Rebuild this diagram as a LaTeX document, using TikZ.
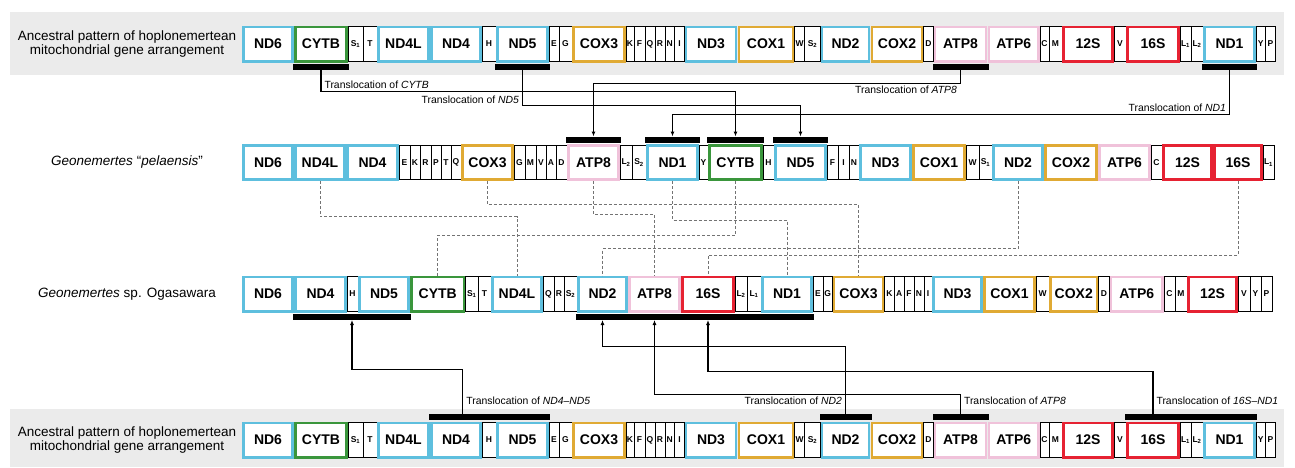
\documentclass[tikz,border=0pt]{standalone}
\usepackage{fontspec}
\setmainfont{Liberation Sans}
\usetikzlibrary{arrows.meta,calc,fit}

\definecolor{ndblue}{RGB}{94,191,222}
\definecolor{cytgreen}{RGB}{58,150,60}
\definecolor{coxgold}{RGB}{224,170,52}
\definecolor{atppink}{RGB}{240,194,218}
\definecolor{rrnred}{RGB}{230,34,50}
\definecolor{bandgray}{RGB}{235,235,235}
\definecolor{linkgray}{RGB}{115,115,115}

% gene order of each row: name/label/slot width/box style
\newcommand{\ancestralorder}{nd6/ND6/52/ndbox, cytb/CYTB/54/cytbox, s1/S\textsubscript{1}/15/trnbox, t/T/14/trnbox, nd4l/ND4L/53/ndbox, nd4/ND4/52/ndbox, h/H/14/trnbox, nd5/ND5/53/ndbox, e/E/10/trnbox, g/G/13/trnbox, cox3/COX3/54/coxbox, k/K/8/trnbox, f/F/11/trnbox, q/Q/10/trnbox, r/R/10/trnbox, n/N/9.5/trnbox, i/I/10/trnbox, nd3/ND3/53/ndbox, cox1/COX1/57/coxbox, w/W/10/trnbox, s2/S\textsubscript{2}/16/trnbox, nd2/ND2/50/ndbox, cox2/COX2/53/coxbox, d/D/10/trnbox, atp8/ATP8/54/atpbox, atp6/ATP6/52.5/atpbox, c/C/9/trnbox, m/M/13/trnbox, 12s/12S/52/rrnbox, v/V/12/trnbox, 16s/16S/54/rrnbox, l1/L\textsubscript{1}/11/trnbox, l2/L\textsubscript{2}/12/trnbox, nd1/ND1/53/ndbox, y/Y/9.5/trnbox, p/P/10/trnbox}
\newcommand{\pelaensisorder}{nd6/ND6/52/ndbox, nd4l/ND4L/52/ndbox, nd4/ND4/53/ndbox, e/E/11/trnbox, k/K/10/trnbox, r/R/11/trnbox, p/P/10/trnbox, t/T/10/trnbox, q/Q/10/trnbox, cox3/COX3/53/coxbox, g/G/11/trnbox, m/M/11/trnbox, v/V/10/trnbox, a/A/10/trnbox, d/D/11/trnbox, atp8/ATP8/53/atpbox, l2/L\textsubscript{2}/12/trnbox, s2/S\textsubscript{2}/14/trnbox, nd1/ND1/53/ndbox, y/Y/9/trnbox, cytb/CYTB/55/cytbox, h/H/11/trnbox, nd5/ND5/53/ndbox, f/F/11/trnbox, i/I/11/trnbox, n/N/10/trnbox, nd3/ND3/53/ndbox, cox1/COX1/54/coxbox, w/W/13/trnbox, s1/S\textsubscript{1}/13/trnbox, nd2/ND2/52/ndbox, cox2/COX2/54/coxbox, atp6/ATP6/53/atpbox, c/C/11/trnbox, 12s/12S/51/rrnbox, 16s/16S/50/rrnbox, l1/L\textsubscript{1}/11/trnbox}
\newcommand{\ogasawaraorder}{nd6/ND6/52/ndbox, nd4/ND4/53/ndbox, h/H/11/trnbox, nd5/ND5/52/ndbox, cytb/CYTB/55.5/cytbox, s1/S\textsubscript{1}/12.5/trnbox, t/T/13/trnbox, nd4l/ND4L/52/ndbox, q/Q/11/trnbox, r/R/10/trnbox, s2/S\textsubscript{2}/13/trnbox, nd2/ND2/51/ndbox, atp8/ATP8/53/atpbox, 16s/16S/54/rrnbox, l2/L\textsubscript{2}/12/trnbox, l1/L\textsubscript{1}/14/trnbox, nd1/ND1/52/ndbox, e/E/10/trnbox, g/G/9.5/trnbox, cox3/COX3/52/coxbox, k/K/10/trnbox, a/A/9.5/trnbox, f/F/10/trnbox, n/N/10/trnbox, i/I/8/trnbox, nd3/ND3/51/ndbox, cox1/COX1/53/coxbox, w/W/13/trnbox, cox2/COX2/49.5/coxbox, d/D/11/trnbox, atp6/ATP6/54.5/atpbox, c/C/11/trnbox, m/M/12/trnbox, 12s/12S/51/rrnbox, v/V/12/trnbox, y/Y/11/trnbox, p/P/11/trnbox}

% one gene row: prefix, centre y, order
\newcommand{\generow}[3]{%
  \pgfmathsetmacro{\xl}{242}
  \foreach \nm/\lbl/\len/\sty [remember=\xr as \xl (initially 242),
      evaluate=\len as \xr using \xl+\len,
      evaluate=\len as \glen using \len-3.2] in #3 {
    \node[\sty] (#1-\nm) at ({(\xl+\xr)/2},#2) {\lbl};
  }
}

\tikzset{
  gene/.style={line width=2.6pt, fill=white, minimum width=\glen, minimum height=34.4, inner sep=0pt, font=\bfseries\fontsize{14}{14}\selectfont},
  ndbox/.style={gene, draw=ndblue},
  cytbox/.style={gene, draw=cytgreen},
  coxbox/.style={gene, draw=coxgold},
  atpbox/.style={gene, draw=atppink},
  rrnbox/.style={gene, draw=rrnred},
  trnbox/.style={draw=black, line width=0.9pt, fill=white, minimum width=\len, minimum height=34.4, inner sep=0pt, font=\bfseries\fontsize{8.5}{8.5}\selectfont},
  bar/.style={fill=black, inner xsep=1.3pt, inner ysep=0pt, minimum height=6pt},
  barbelow/.style={bar, yshift=-4.3pt},
  barabove/.style={bar, yshift=4.3pt},
  move/.style={line width=1.1pt, -{Latex[length=5pt,width=4pt]}},
  shared/.style={linkgray, line width=0.9pt, dash pattern=on 3pt off 2pt},
  tlabel/.style={font=\fontsize{10.4}{10.4}\selectfont, inner xsep=3pt, inner ysep=2pt},
  rowname/.style={align=center, inner sep=0pt, font=\fontsize{13.5}{14.5}\selectfont},
}

\begin{document}
\begin{tikzpicture}[x=1pt, y=-1pt]
\useasboundingbox (0,0) rectangle (1295,467);
% grey background of the ancestral rows
\fill[bandgray] (10,12) rectangle (1284,75);
\fill[bandgray] (10,409) rectangle (1284,467);

% row names
\node[rowname] (toplabel) at (127,44) {Ancestral pattern of hoplonemertean\\mitochondrial gene arrangement};
\node[rowname] (pellabel) at (127,162.5) {\textit{Geonemertes} “\textit{pelaensis}”};
\node[rowname] (ogalabel) at (127,294) {\textit{Geonemertes} sp. Ogasawara};
\node[rowname] (botlabel) at (127,440) {Ancestral pattern of hoplonemertean\\mitochondrial gene arrangement};

% gene rows
\generow{top}{44}{\ancestralorder}
\generow{pel}{162.5}{\pelaensisorder}
\generow{oga}{294}{\ogasawaraorder}
\generow{bot}{440}{\ancestralorder}

% black bars under the moved blocks
\node[barbelow, fit=(top-cytb.south west)(top-cytb.south east)] (top-bcytb) {};
\node[barbelow, fit=(top-nd5.south west)(top-nd5.south east)] (top-bnd5) {};
\node[barbelow, fit=(top-atp8.south west)(top-atp8.south east)] (top-batp8) {};
\node[barbelow, fit=(top-nd1.south west)(top-nd1.south east)] (top-bnd1) {};
\node[barabove, fit=(pel-atp8.north west)(pel-atp8.north east)] (pel-batp8) {};
\node[barabove, fit=(pel-nd1.north west)(pel-nd1.north east)] (pel-bnd1) {};
\node[barabove, fit=(pel-cytb.north west)(pel-cytb.north east)] (pel-bcytb) {};
\node[barabove, fit=(pel-nd5.north west)(pel-nd5.north east)] (pel-bnd5) {};
\node[barbelow, fit=(oga-nd4.south west)(oga-nd5.south east)] (oga-bnd45) {};
\node[barbelow, fit=(oga-nd2.south west)(oga-nd2.south east)] (oga-bnd2) {};
\node[barbelow, fit=(oga-atp8.south west)(oga-atp8.south east)] (oga-batp8) {};
\node[barbelow, fit=(oga-16s.south west)(oga-nd1.south east)] (oga-b16s) {};
\node[barabove, fit=(bot-nd4.north west)(bot-nd5.north east)] (bot-bnd45) {};
\node[barabove, fit=(bot-nd2.north west)(bot-nd2.north east)] (bot-bnd2) {};
\node[barabove, fit=(bot-atp8.north west)(bot-atp8.north east)] (bot-batp8) {};
\node[barabove, fit=(bot-16s.north west)(bot-nd1.north east)] (bot-b16s) {};

% translocations into G. pelaensis
\draw[move] (top-bcytb.south) -- ++(0,21.5) node[tlabel, anchor=south west] {Translocation of \textit{CYTB}} -| (pel-bcytb.north);
\draw[move] (top-bnd5.south) -- ++(0,35.7) node[tlabel, anchor=south east] {Translocation of \textit{ND5}} -| (pel-bnd5.north);
\draw[move] (top-batp8.south) -- ++(0,13.8) node[tlabel, anchor=north east] {Translocation of \textit{ATP8}} -| (pel-batp8.north);
\draw[move] (top-bnd1.south) -- ++(0,44.1) node[tlabel, anchor=south east] {Translocation of \textit{ND1}} -| (pel-bnd1.north);

% same genes in both Geonemertes
\foreach \g/\dy in {cox3/23.9, atp8/33.3, nd4l/35.7, nd1/39, cytb/54.2, nd2/67.6, 16s/74.3}
  \draw[shared] (pel-\g.south) -- ++(0,\dy) -| (oga-\g.north);

% translocations into G. sp. Ogasawara
\draw[move] ($(bot-bnd45.north west)!0.28!(bot-bnd45.north east)$) node[tlabel, anchor=south west, yshift=7pt] {Translocation of \textit{ND4–ND5}} -- ++(0,-44.3) -| (oga-bnd45.south);
\draw[move] (bot-bnd2.north) node[tlabel, anchor=south east, yshift=7pt] {Translocation of \textit{ND2}} -- ++(0,-67.5) -| (oga-bnd2.south);
\draw[move] (bot-batp8.north) node[tlabel, anchor=south west, yshift=7pt] {Translocation of \textit{ATP8}} -- ++(0,-19.7) -| (oga-batp8.south);
\draw[move] (bot-16s |- bot-b16s.north) node[tlabel, anchor=south west, yshift=7pt] {Translocation of \textit{16S–ND1}} -- ++(0,-42.6) -| (oga-16s |- oga-b16s.south);
\end{tikzpicture}
\end{document}
